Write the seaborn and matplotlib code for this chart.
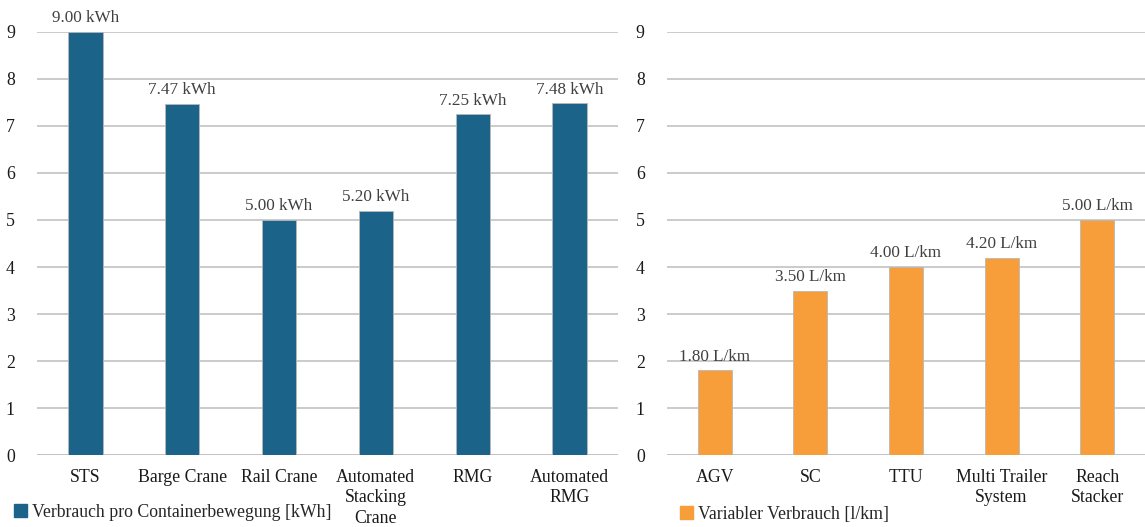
import matplotlib
matplotlib.use("Agg")
import matplotlib.pyplot as plt
from matplotlib.patches import Patch
import seaborn as sns
import pandas as pd

# Electric handling equipment: energy per container move
crane_names = ["STS", "Barge Crane", "Rail Crane", "Automated\nStacking\nCrane", "RMG", "Automated\nRMG"]
crane_kwh = [9.00, 7.47, 5.00, 5.20, 7.25, 7.48]

# Horizontal transport vehicles: variable fuel consumption
vehicle_names = ["AGV", "SC", "TTU", "Multi Trailer\nSystem", "Reach\nStacker"]
vehicle_l_per_km = [1.80, 3.50, 4.00, 4.20, 5.00]

y_ticks = list(range(0, 10))

BLUE = "#1b6389"
ORANGE = "#f79e3b"
GRID = "#c2c2c2"
LABEL_GREY = "#404040"

sns.set_theme(style="white")
plt.rcParams["font.family"] = ["Liberation Serif", "DejaVu Serif"]
plt.rcParams["font.size"] = 12.8

fig = plt.figure(figsize=(11.45, 5.27), dpi=100)
ax_l = fig.add_axes([0.0323, 0.1366, 0.5074, 0.8027])
ax_r = fig.add_axes([0.5825, 0.1366, 0.4175, 0.8027])

df_l = pd.DataFrame({"name": crane_names, "value": crane_kwh})
df_r = pd.DataFrame({"name": vehicle_names, "value": vehicle_l_per_km})


def draw_panel(ax, df, color, unit):
    sns.barplot(data=df, x="name", y="value", ax=ax, color=color, width=0.355,
                saturation=1, edgecolor="#b8b8b8", linewidth=0.6, zorder=3)
    ax.set_ylim(0, 9)
    ax.set_yticks(y_ticks)
    ax.set_xlim(-0.5, len(df) - 0.5)
    ax.yaxis.grid(True, color=GRID, linewidth=1.2, zorder=0)
    ax.set_axisbelow(True)
    for s in ax.spines.values():
        s.set_visible(False)
    ax.axhline(0, color=GRID, linewidth=1.2, zorder=1)
    ax.set_xlabel("")
    ax.set_ylabel("")
    ax.tick_params(axis="both", length=0, labelsize=12.8, colors="#1a1a1a")
    ax.tick_params(axis="x", pad=10)
    ax.tick_params(axis="y", pad=16)
    for lbl in ax.get_xticklabels():
        lbl.set_linespacing(1.27)
        lbl.set_verticalalignment("top")
    ax.bar_label(ax.containers[0], labels=[f"{v:.2f} {unit}" for v in df["value"]],
                 padding=4, fontsize=12.3, color=LABEL_GREY, clip_on=False)


draw_panel(ax_l, df_l, BLUE, "kWh")
draw_panel(ax_r, df_r, ORANGE, "L/km")

fig.legend(handles=[Patch(facecolor=BLUE, edgecolor=BLUE)],
           labels=["Verbrauch pro Containerbewegung [kWh]"],
           loc="center left", bbox_to_anchor=(0.012, 0.028), frameon=False,
           fontsize=12.8, handlelength=0.75, handleheight=0.75, handletextpad=0.25,
           borderaxespad=0, borderpad=0)
fig.legend(handles=[Patch(facecolor=ORANGE, edgecolor=ORANGE)],
           labels=["Variabler Verbrauch [l/km]"],
           loc="center left", bbox_to_anchor=(0.594, 0.024), frameon=False,
           fontsize=12.8, handlelength=0.75, handleheight=0.75, handletextpad=0.25,
           borderaxespad=0, borderpad=0)

fig.savefig("out.png", dpi=100)
